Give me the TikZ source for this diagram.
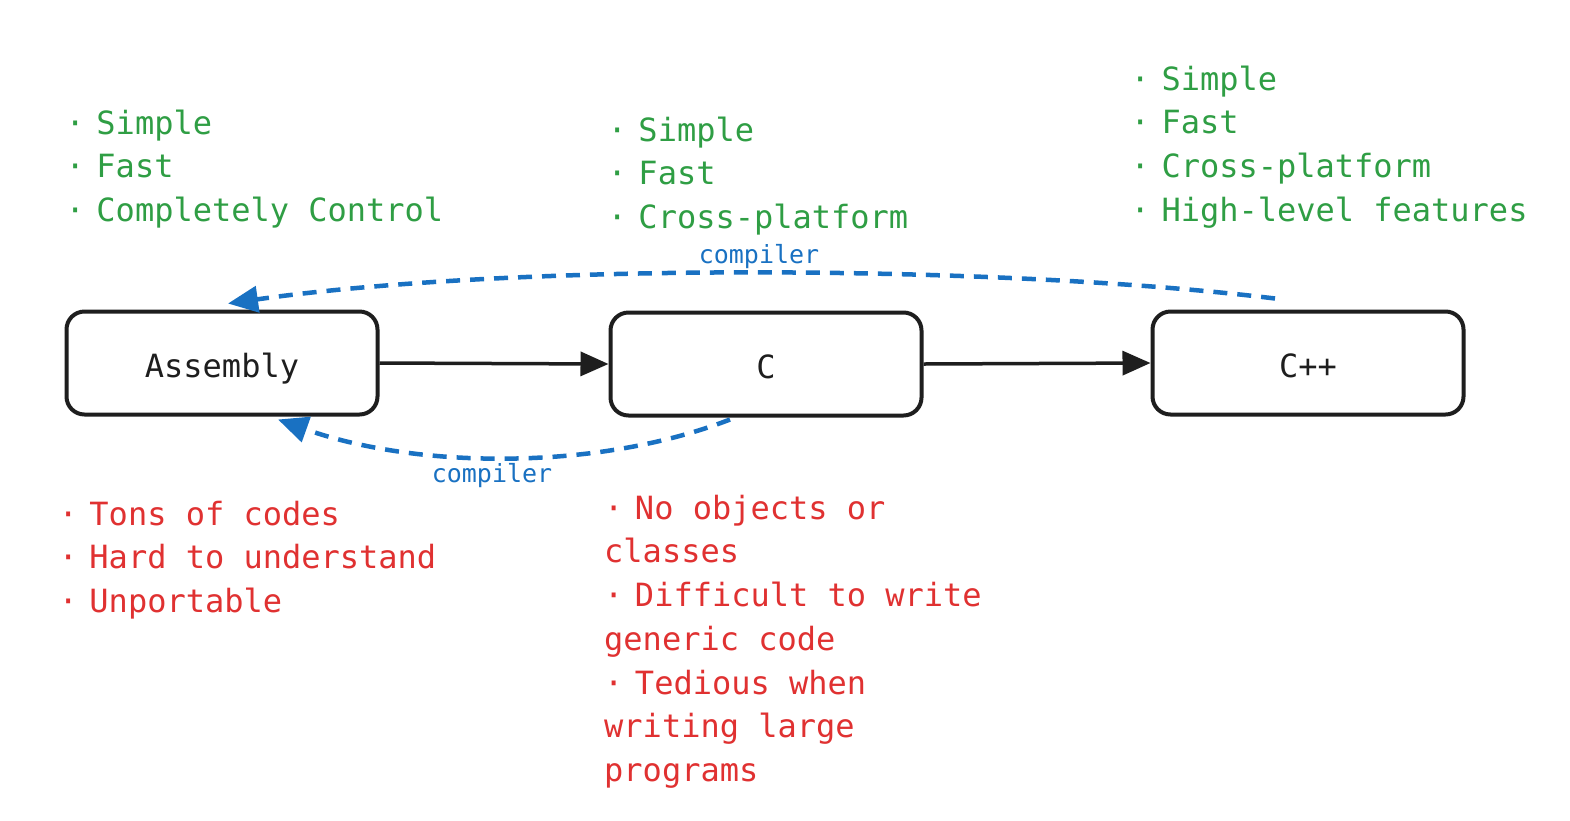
\documentclass[tikz,border=0pt]{standalone}
\usepackage{fontspec}
\setmonofont{DejaVu Sans Mono}
\usetikzlibrary{arrows.meta,calc}
\definecolor{ink}{HTML}{1E1E1E}
\definecolor{pro}{HTML}{2F9E44}
\definecolor{con}{HTML}{E03131}
\definecolor{comp}{HTML}{1971C2}
\newcommand{\bul}{·\hspace{0.36em}}
\begin{document}
\begin{tikzpicture}[x=1pt,y=-1pt,
 langbox/.style={draw=ink, line width=4pt, rounded corners=18pt, minimum width=311pt, minimum height=103pt, font=\ttfamily\fontsize{32}{43.7}\selectfont, text=ink, inner sep=0pt, text height=29pt, text depth=0pt},
 list/.style={anchor=north west, align=left, inner sep=0pt, font=\ttfamily\fontsize{32}{43.7}\selectfont},
 flow/.style={draw=ink, line width=3.5pt, -{Triangle[length=28pt,width=24pt]}},
 compl/.style={draw=comp, line width=4.5pt, dash pattern=on 14pt off 10pt, -{Triangle[length=30pt,width=26pt]}},
 clabel/.style={text=comp, font=\ttfamily\fontsize{25}{30}\selectfont, inner sep=0pt}]
\useasboundingbox (0,0) rectangle (1570,820);
\fill[white] (0,0) rectangle (1570,820);

\node[langbox] (asm) at (222,363) {Assembly};
\node[langbox] (c) at (766,364) {C};
\node[langbox] (cpp) at (1308,363) {C++};

\draw[flow] (asm.east) -- (c.west);
\draw[flow] (c.east) -- (cpp.west);

\coordinate (topstart) at ($(cpp.north)+(-33,-11)$);
\coordinate (toptip) at ($(asm.north)+(6,-6)$);
\draw[compl] (topstart) .. controls (1000,265) and (520,262) .. (toptip);
\node[clabel] (lab1) at (759,257) {compiler};

\coordinate (botstart) at ($(c.south)+(-36,2)$);
\coordinate (bottip) at ($(asm.south)+(56,3)$);
\draw[compl] (botstart) .. controls (600,470) and (420,470) .. (bottip);
\node[clabel] (lab2) at (492,476) {compiler};

\node[list, text=pro] (asmpro) at (65.5,103.4) {\strut\bul Simple\\\bul Fast\\\bul Completely Control};
\node[list, text=pro] (cpro) at (607.5,110.4) {\strut\bul Simple\\\bul Fast\\\bul Cross-platform};
\node[list, text=pro] (cpppro) at (1130.5,59.4) {\strut\bul Simple\\\bul Fast\\\bul Cross-platform\\\bul High-level features};

\node[list, text=con] (asmcon) at (58.5,494.4) {\strut\bul Tons of codes\\\bul Hard to understand\\\bul Unportable};
\node[list, text=con] (ccon) at (604,488.4) {\strut\bul No objects or\\classes\\\bul Difficult to write\\generic code\\\bul Tedious when\\writing large\\programs};
\end{tikzpicture}
\end{document}
